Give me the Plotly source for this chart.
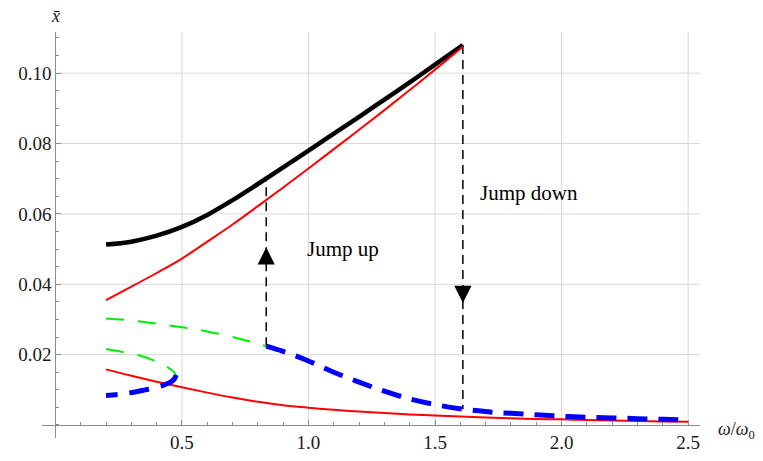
import numpy as np
import plotly.graph_objects as go

# ---------------- data ----------------
black_x = [0.2, 0.3, 0.4, 0.5, 0.6, 0.7, 0.8, 0.9, 1.0, 1.1, 1.2, 1.3, 1.4, 1.5, 1.61]
black_y = [0.0513, 0.0521, 0.0538, 0.0563, 0.0597, 0.0639, 0.0685, 0.0732, 0.0780,
           0.0828, 0.0876, 0.0925, 0.0974, 0.1024, 0.1080]

red_up_x = [0.2, 0.3, 0.4, 0.5, 0.6, 0.7, 0.8, 0.9, 1.0, 1.1, 1.2, 1.3, 1.4, 1.5, 1.61]
red_up_y = [0.0355, 0.0393, 0.0432, 0.0473, 0.0521, 0.0570, 0.0622, 0.0675, 0.0729, 0.0784,
            0.0839, 0.0895, 0.0952, 0.1010, 0.1075]

green_up_x = [0.2, 0.3, 0.4, 0.5, 0.6, 0.7, 0.8, 0.833]
green_up_y = [0.0303, 0.0297, 0.0288, 0.0278, 0.0266, 0.0250, 0.0231, 0.0224]

blue_up_x = [0.833, 0.9, 1.0, 1.1, 1.2, 1.3, 1.4, 1.5, 1.61, 1.7, 1.8, 1.9, 2.0, 2.1, 2.2, 2.3, 2.4, 2.5]
blue_up_y = [0.0224, 0.0209, 0.0182, 0.0150, 0.0122, 0.0096, 0.0074, 0.0058, 0.0045, 0.0038,
             0.0033, 0.0029, 0.0025, 0.0022, 0.0020, 0.0018, 0.0016, 0.0014]

green_lo_x = [0.2, 0.27, 0.33, 0.39, 0.44, 0.465, 0.477]
green_lo_y = [0.0216, 0.0207, 0.0198, 0.0183, 0.0166, 0.0153, 0.0142]

blue_lo_x = [0.477, 0.47, 0.455, 0.43, 0.4, 0.35, 0.3, 0.25, 0.2]
blue_lo_y = [0.0142, 0.0131, 0.0122, 0.0114, 0.0107, 0.0099, 0.0092, 0.0087, 0.0084]

red_lo_x = [0.2, 0.3, 0.4, 0.5, 0.6, 0.7, 0.8, 0.9, 1.0, 1.1, 1.2, 1.3, 1.4, 1.5, 1.6, 1.7,
            1.8, 1.9, 2.0, 2.1, 2.2, 2.3, 2.4, 2.5]
red_lo_y = [0.0158, 0.0140, 0.0123, 0.0107, 0.0092, 0.0078, 0.0066, 0.0056, 0.0049, 0.0043,
            0.0038, 0.0034, 0.0030, 0.0027, 0.0024, 0.0021, 0.0019, 0.0017, 0.0016, 0.0014,
            0.0013, 0.0011, 0.0010, 0.0009]

jump_up_x = 0.833
jump_down_x = 1.61
jump_up_head = [0.0505, 0.0455]     # tip, tail
jump_down_head = [0.0347, 0.0397]   # tip, tail

x_ticks = [0.5, 1.0, 1.5, 2.0, 2.5]
x_ticklabels = ["0.5", "1.0", "1.5", "2.0", "2.5"]
y_ticks = [0.02, 0.04, 0.06, 0.08, 0.10]
y_ticklabels = ["0.02", "0.04", "0.06", "0.08", "0.10"]

# ---------------- figure ----------------
X0, X1 = -0.053, 2.547
Y0, Y1 = -0.0037, 0.1117
AX = "#8c8c8c"
GRID = "#d8d8d8"
FONT = "Liberation Serif"

fig = go.Figure()

# jump lines (dashed black)
ju_top = float(np.interp(jump_up_x, black_x, black_y))
ju_bot = float(np.interp(jump_up_x, blue_up_x, blue_up_y))
jd_top = float(np.interp(jump_down_x, black_x, black_y))
jd_bot = float(np.interp(jump_down_x, blue_up_x, blue_up_y))
fig.add_trace(go.Scatter(x=[jump_up_x, jump_up_x], y=[ju_bot, ju_top], mode="lines",
                         line=dict(color="black", width=1.5, dash="9px,6px"), hoverinfo="skip"))
fig.add_trace(go.Scatter(x=[jump_down_x, jump_down_x], y=[jd_top, jd_bot], mode="lines",
                         line=dict(color="black", width=1.5, dash="9px,6px"), hoverinfo="skip"))

fig.add_trace(go.Scatter(x=red_lo_x, y=red_lo_y, mode="lines", line=dict(color="#ff0000", width=2, shape="spline")))
fig.add_trace(go.Scatter(x=green_up_x, y=green_up_y, mode="lines",
                         line=dict(color="#00ee00", width=2, dash="18px,14px", shape="spline")))
fig.add_trace(go.Scatter(x=green_lo_x, y=green_lo_y, mode="lines",
                         line=dict(color="#00ee00", width=2, dash="18px,14px", shape="spline")))
fig.add_trace(go.Scatter(x=blue_lo_x, y=blue_lo_y, mode="lines",
                         line=dict(color="#0000ff", width=5, dash="20px,12px", shape="spline")))
fig.add_trace(go.Scatter(x=blue_up_x, y=blue_up_y, mode="lines",
                         line=dict(color="#0000ff", width=5, dash="20px,11px", shape="spline")))
fig.add_trace(go.Scatter(x=black_x, y=black_y, mode="lines", line=dict(color="black", width=4.5, shape="spline")))
fig.add_trace(go.Scatter(x=red_up_x, y=red_up_y, mode="lines", line=dict(color="#ff0000", width=2, shape="spline")))

# grid lines (only in the first quadrant like the reference)
shapes = []
for v in x_ticks:
    shapes.append(dict(type="line", xref="x", yref="y", x0=v, x1=v, y0=0, y1=Y1,
                       line=dict(color=GRID, width=1), layer="below"))
for v in y_ticks:
    shapes.append(dict(type="line", xref="x", yref="y", x0=0, x1=X1, y0=v, y1=v,
                       line=dict(color=GRID, width=1), layer="below"))

annotations = [
    # arrow heads
    dict(x=jump_up_x, y=jump_up_head[0], ax=jump_up_x, ay=jump_up_head[1], xref="x", yref="y",
         axref="x", ayref="y", text="", showarrow=True, arrowhead=2, arrowsize=2.3, arrowwidth=1.5,
         arrowcolor="black"),
    dict(x=jump_down_x, y=jump_down_head[0], ax=jump_down_x, ay=jump_down_head[1], xref="x", yref="y",
         axref="x", ayref="y", text="", showarrow=True, arrowhead=2, arrowsize=2.3, arrowwidth=1.5,
         arrowcolor="black"),
    dict(x=1.136, y=0.0500, xref="x", yref="y", text="Jump up", showarrow=False,
         font=dict(family=FONT, size=21, color="black")),
    dict(x=1.870, y=0.0659, xref="x", yref="y", text="Jump down", showarrow=False,
         font=dict(family=FONT, size=21, color="black")),
    dict(x=0, y=1, xref="x", yref="paper", yanchor="middle", yshift=16, text="<i>x\u0304</i>",
         showarrow=False, font=dict(family=FONT, size=18, color="#1a1a1a")),
    dict(x=1.024, y=0, xref="paper", yref="y", xanchor="left", yanchor="middle", yshift=-6,
         text="<i>ω</i>/<i>ω</i><sub>0</sub>", showarrow=False,
         font=dict(family=FONT, size=18, color="#1a1a1a")),
]

# the page adds an 8px body margin, so the figure is 8px smaller and margins shifted
fig.update_layout(
    width=755, height=453,
    margin=dict(l=34, r=63, t=24, b=23, autoexpand=False),
    plot_bgcolor="white", paper_bgcolor="white",
    showlegend=False,
    font=dict(family=FONT, size=19, color="#1a1a1a"),
    shapes=shapes, annotations=annotations,
)
fig.update_xaxes(
    range=[X0, X1], showgrid=False, zeroline=False, showline=True, linecolor=AX, linewidth=1,
    anchor="free", position=(0 - Y0) / (Y1 - Y0), automargin=False,
    tickmode="array", tickvals=x_ticks, ticktext=x_ticklabels,
    ticks="inside", ticklen=5, tickcolor=AX, tickwidth=1,
    minor=dict(tickmode="linear", tick0=0, dtick=0.1, ticks="inside", ticklen=3, tickcolor=AX, showgrid=False),
)
fig.update_yaxes(
    range=[Y0, Y1], showgrid=False, zeroline=False, showline=True, linecolor=AX, linewidth=1,
    anchor="free", position=(0 - X0) / (X1 - X0), automargin=False,
    tickmode="array", tickvals=y_ticks, ticktext=y_ticklabels,
    ticks="inside", ticklen=5, tickcolor=AX, tickwidth=1,
    minor=dict(tickmode="linear", tick0=0, dtick=0.005, ticks="inside", ticklen=3, tickcolor=AX, showgrid=False),
)

fig.write_html("out.html")
